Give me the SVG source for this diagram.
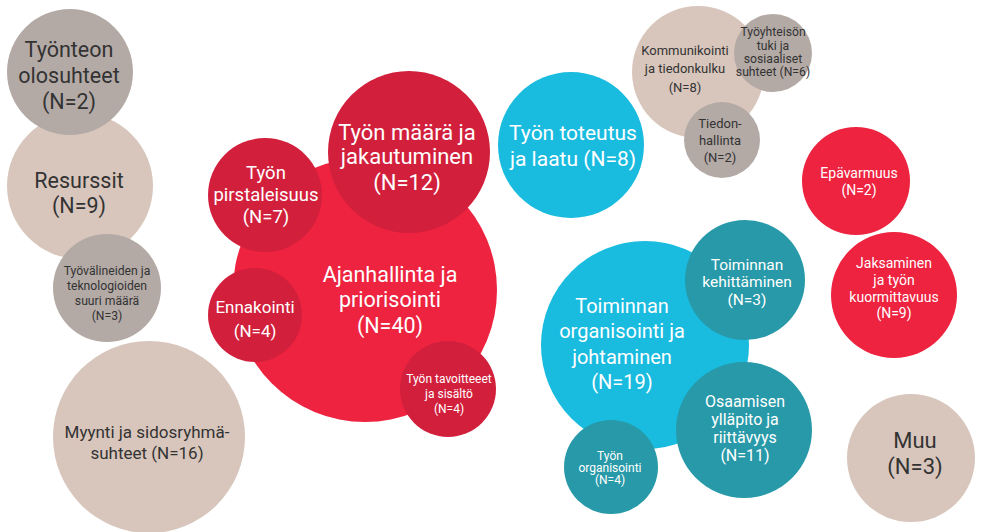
<svg xmlns="http://www.w3.org/2000/svg" width="1005" height="532" viewBox="0 0 1005 532">
  <style>
    text { font-family: Roboto, "Liberation Sans", sans-serif; text-anchor: middle; }
    .beige { fill: #d8c6bc; }
    .gray { fill: #b3aaa6; }
    .red { fill: #ed2340; }
    .dred { fill: #d21f3c; }
    .cyan { fill: #19bbdf; }
    .teal { fill: #2799a8; }
    .dark { fill: #333333; }
    .light { fill: #ffffff; }
  </style>
  <rect width="1005" height="532" fill="#ffffff"/>
  <g id="connectors"></g>

  <!-- left column -->
  <g id="resurssit">
    <circle class="beige" cx="80" cy="186" r="73"/>
    <text class="dark" font-size="21.5"><tspan x="79" y="188">Resurssit</tspan><tspan x="79" y="213">(N=9)</tspan></text>
  </g>
  <g id="tyonteon-olosuhteet">
    <circle class="gray" cx="70" cy="72" r="63"/>
    <text class="dark" font-size="21.5"><tspan x="69" y="57">Työnteon</tspan><tspan x="69" y="83">olosuhteet</tspan><tspan x="69" y="109">(N=2)</tspan></text>
  </g>
  <g id="tyovalineet">
    <circle class="gray" cx="107" cy="288" r="54"/>
    <text class="dark" font-size="12.2"><tspan x="107" y="275">Työvälineiden ja</tspan><tspan x="107" y="290">teknologioiden</tspan><tspan x="107" y="305">suuri määrä</tspan><tspan x="107" y="320">(N=3)</tspan></text>
  </g>
  <g id="myynti">
    <circle class="beige" cx="149" cy="437" r="96"/>
    <text class="dark" font-size="17"><tspan x="147" y="438">Myynti ja sidosryhmä-</tspan><tspan x="147" y="459">suhteet (N=16)</tspan></text>
  </g>

  <!-- time management cluster -->
  <g id="ajanhallinta">
    <circle class="red" cx="365" cy="290" r="132"/>
    <text class="light" font-size="21.5"><tspan x="390" y="282">Ajanhallinta ja</tspan><tspan x="390" y="307">priorisointi</tspan><tspan x="390" y="333">(N=40)</tspan></text>
  </g>
  <g id="pirstaleisuus">
    <circle class="dred" cx="265" cy="195" r="57"/>
    <text class="light" font-size="18.5"><tspan x="266" y="179">Työn</tspan><tspan x="266" y="201">pirstaleisuus</tspan><tspan x="266" y="223">(N=7)</tspan></text>
  </g>
  <g id="tyon-maara">
    <circle class="dred" cx="409" cy="152" r="81"/>
    <text class="light" font-size="22"><tspan x="407" y="140">Työn määrä ja</tspan><tspan x="407" y="164">jakautuminen</tspan><tspan x="407" y="190">(N=12)</tspan></text>
  </g>
  <g id="ennakointi">
    <circle class="dred" cx="255" cy="315" r="47"/>
    <text class="light" font-size="17"><tspan x="255" y="313">Ennakointi</tspan><tspan x="255" y="337">(N=4)</tspan></text>
  </g>
  <g id="tavoitteet">
    <circle class="dred" cx="448" cy="389" r="48"/>
    <text class="light" font-size="12"><tspan x="449" y="383">Työn tavoitteeet</tspan><tspan x="449" y="398">ja sisältö</tspan><tspan x="449" y="413">(N=4)</tspan></text>
  </g>

  <!-- centre -->
  <g id="toteutus">
    <circle class="cyan" cx="571" cy="145" r="73"/>
    <text class="light" font-size="21"><tspan x="573" y="140">Työn toteutus</tspan><tspan x="573" y="166">ja laatu (N=8)</tspan></text>
  </g>

  <!-- communication cluster -->
  <g id="kommunikointi">
    <circle class="beige" cx="698" cy="72" r="66"/>
    <text class="dark" font-size="13"><tspan x="685" y="55">Kommunikointi</tspan><tspan x="685" y="73">ja tiedonkulku</tspan><tspan x="685" y="92">(N=8)</tspan></text>
  </g>
  <g id="tyoyhteiso">
    <circle class="gray" cx="773" cy="53" r="39"/>
    <text class="dark" font-size="12.2"><tspan x="773" y="36">Työyhteisön</tspan><tspan x="773" y="50">tuki ja</tspan><tspan x="773" y="63">sosiaaliset</tspan><tspan x="773" y="76">suhteet (N=6)</tspan></text>
  </g>
  <g id="tiedonhallinta">
    <circle class="gray" cx="722" cy="140" r="38"/>
    <text class="dark" font-size="13"><tspan x="720" y="128">Tiedon-</tspan><tspan x="720" y="145">hallinta</tspan><tspan x="720" y="162">(N=2)</tspan></text>
  </g>

  <!-- right column -->
  <g id="epavarmuus">
    <circle class="red" cx="856" cy="181" r="54"/>
    <text class="light" font-size="14"><tspan x="859" y="178">Epävarmuus</tspan><tspan x="859" y="195">(N=2)</tspan></text>
  </g>
  <g id="jaksaminen">
    <circle class="red" cx="894" cy="295" r="63"/>
    <text class="light" font-size="14"><tspan x="894" y="268">Jaksaminen</tspan><tspan x="894" y="285">ja työn</tspan><tspan x="894" y="302">kuormittavuus</tspan><tspan x="894" y="318">(N=9)</tspan></text>
  </g>
  <g id="muu">
    <circle class="beige" cx="911" cy="458" r="64"/>
    <text class="dark" font-size="22"><tspan x="915" y="448">Muu</tspan><tspan x="915" y="474">(N=3)</tspan></text>
  </g>

  <!-- organisation cluster -->
  <g id="toiminnan-organisointi">
    <circle class="cyan" cx="645" cy="345" r="104"/>
    <text class="light" font-size="20"><tspan x="622" y="313">Toiminnan</tspan><tspan x="622" y="338">organisointi ja</tspan><tspan x="622" y="364">johtaminen</tspan><tspan x="622" y="389">(N=19)</tspan></text>
  </g>
  <g id="kehittaminen">
    <circle class="teal" cx="745" cy="280" r="60"/>
    <text class="light" font-size="15.5"><tspan x="747" y="270">Toiminnan</tspan><tspan x="747" y="287">kehittäminen</tspan><tspan x="747" y="305">(N=3)</tspan></text>
  </g>
  <g id="osaaminen">
    <circle class="teal" cx="744" cy="430" r="68"/>
    <text class="light" font-size="16"><tspan x="745" y="407">Osaamisen</tspan><tspan x="745" y="425">ylläpito ja</tspan><tspan x="745" y="443">riittävyys</tspan><tspan x="745" y="461">(N=11)</tspan></text>
  </g>
  <g id="tyon-organisointi">
    <circle class="teal" cx="611" cy="467" r="47"/>
    <text class="light" font-size="12"><tspan x="610" y="460">Työn</tspan><tspan x="610" y="472">organisointi</tspan><tspan x="610" y="484">(N=4)</tspan></text>
  </g>
</svg>
